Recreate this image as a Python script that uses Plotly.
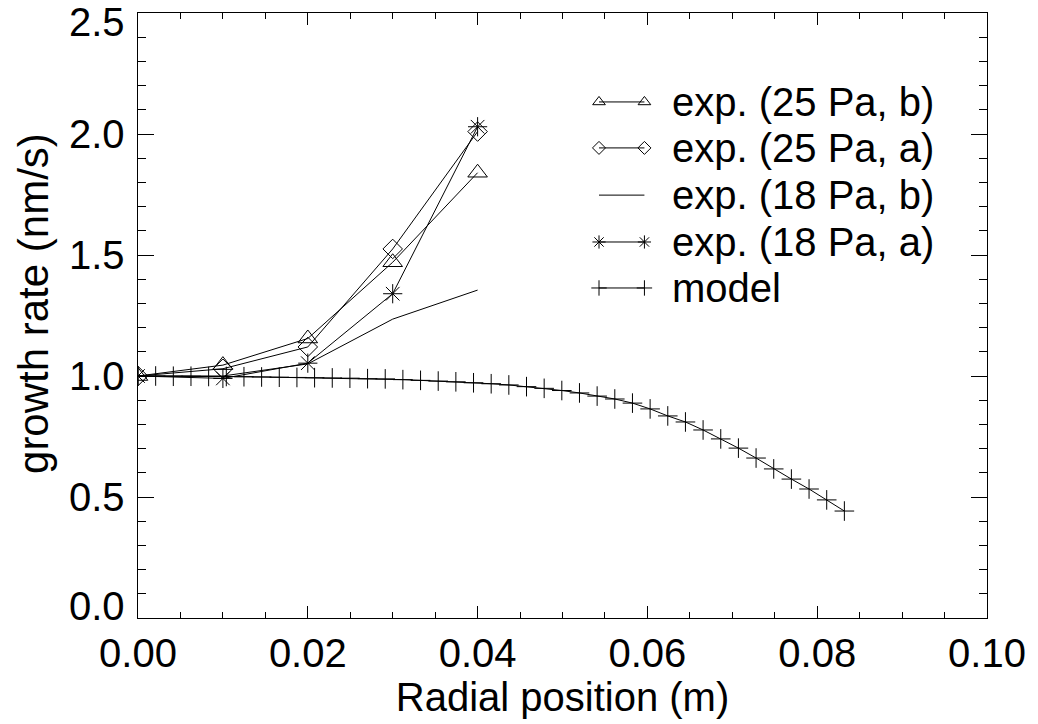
import plotly.graph_objects as go

# ---- data ----
x_exp = [0.0, 0.01, 0.02, 0.03, 0.04]
y_25b = [1.00, 1.045, 1.155, 1.47, 1.84]
y_25a = [1.00, 1.03, 1.12, 1.525, 2.01]
y_18b = [1.00, 1.00, 1.05, 1.235, 1.355]
y_18a = [1.00, 0.99, 1.053, 1.34, 2.03]

model_step = 0.00208
y_model = [1.000, 1.000, 0.999, 0.999, 0.998, 0.998, 0.997, 0.996, 0.995, 0.994,
           0.993, 0.992, 0.991, 0.989, 0.988, 0.985, 0.982, 0.979, 0.976, 0.972,
           0.968, 0.963, 0.956, 0.949, 0.940, 0.930, 0.917, 0.905, 0.888, 0.864,
           0.835, 0.810, 0.777, 0.740, 0.702, 0.661, 0.616, 0.574, 0.533, 0.488,
           0.442]
x_model = [i * model_step for i in range(len(y_model))]

x_ticks = [0.0, 0.02, 0.04, 0.06, 0.08, 0.10]
x_ticklabels = ["0.00", "0.02", "0.04", "0.06", "0.08", "0.10"]
y_ticks = [0.0, 0.5, 1.0, 1.5, 2.0, 2.5]
y_ticklabels = ["0.0", "0.5", "1.0", "1.5", "2.0", "2.5"]

legend_names = ["exp. (25 Pa, b)", "exp. (25 Pa, a)", "exp. (18 Pa, b)",
                "exp. (18 Pa, a)", "model"]

FONT = "Liberation Sans, Arial, sans-serif"
BLACK = "black"
FS = 40

fig = go.Figure()

series = [
    (x_exp, y_25b, "lines+markers", "triangle-up-open", 17),
    (x_exp, y_25a, "lines+markers", "diamond-open", 15),
    (x_exp, y_18b, "lines", None, 0),
    (x_exp, y_18a, "lines+markers", "asterisk-open", 16),
    (x_model, y_model, "lines+markers", "cross-thin-open", 14),
]
for (xs, ys, mode, sym, sz), name in zip(series, legend_names):
    kw = dict(x=xs, y=ys, mode=mode, name=name, showlegend=False,
              line=dict(color=BLACK, width=1))
    if sym:
        kw["marker"] = dict(symbol=sym, size=sz, color=BLACK,
                            line=dict(color=BLACK, width=1))
    fig.add_trace(go.Scatter(**kw))

# ---- custom legend (two markers per sample, like the original) ----
leg_x0, leg_x1, leg_tx = 0.543, 0.5965, 0.627
leg_rows = [0.853, 0.777, 0.699, 0.6215, 0.5455]
leg_sizes = [11, 10, 0, 11, 11]
for (xs, ys, mode, sym, sz), name, yr, lsz in zip(series, legend_names, leg_rows, leg_sizes):
    kw = dict(x=[leg_x0, leg_x1], y=[yr, yr], mode=mode, showlegend=False,
              xaxis="x2", yaxis="y2", hoverinfo="skip",
              line=dict(color=BLACK, width=1))
    if sym:
        kw["marker"] = dict(symbol=sym, size=lsz, color=BLACK,
                            line=dict(color=BLACK, width=1))
    fig.add_trace(go.Scatter(**kw))
    fig.add_annotation(x=leg_tx, y=yr, xref="paper", yref="paper", text=name,
                       showarrow=False, xanchor="left", yanchor="middle",
                       font=dict(family=FONT, size=FS, color=BLACK))

# ---- y tick labels (kept inside the axis span at the ends, like the original) ----
for i, (v, lab) in enumerate(zip(y_ticks, y_ticklabels)):
    shift = 12 if i == 0 else (-9 if i == len(y_ticks) - 1 else 0)
    fig.add_annotation(x=0, y=v, xref="paper", yref="y", text=lab, showarrow=False,
                       xanchor="right", yanchor="middle", xshift=-11, yshift=shift,
                       font=dict(family=FONT, size=FS, color=BLACK))

# y-axis title
fig.add_annotation(x=-0.123, y=0.52, xref="paper", yref="paper", text="growth rate (nm/s)",
                   textangle=-90, showarrow=False, xanchor="center", yanchor="middle",
                   font=dict(family=FONT, size=42, color=BLACK))

axis_common = dict(showgrid=False, zeroline=False, showline=True, linecolor=BLACK,
                   linewidth=1, mirror="allticks", ticks="inside", tickcolor=BLACK,
                   tickwidth=1, tickfont=dict(family=FONT, size=FS, color=BLACK))

fig.update_layout(
    width=1038, height=724,
    margin=dict(l=138, r=40, t=13, b=106),
    paper_bgcolor="white", plot_bgcolor="white",
    xaxis=dict(range=[0, 0.10], tickvals=x_ticks, ticktext=x_ticklabels, ticklen=12,
               minor=dict(dtick=0.005, ticks="inside", ticklen=6, tickcolor=BLACK, tickwidth=1),
               title=dict(text="Radial position (m)", font=dict(family=FONT, size=FS, color=BLACK),
                          standoff=6),
               **axis_common),
    yaxis=dict(range=[0, 2.5], tickvals=y_ticks, showticklabels=False, ticklen=16,
               minor=dict(dtick=0.1, ticks="inside", ticklen=8, tickcolor=BLACK, tickwidth=1),
               **axis_common),
    xaxis2=dict(domain=[0, 1], range=[0, 1], overlaying="x", visible=False, fixedrange=True),
    yaxis2=dict(domain=[0, 1], range=[0, 1], overlaying="y", visible=False, fixedrange=True),
)

fig.write_html("out.html")
